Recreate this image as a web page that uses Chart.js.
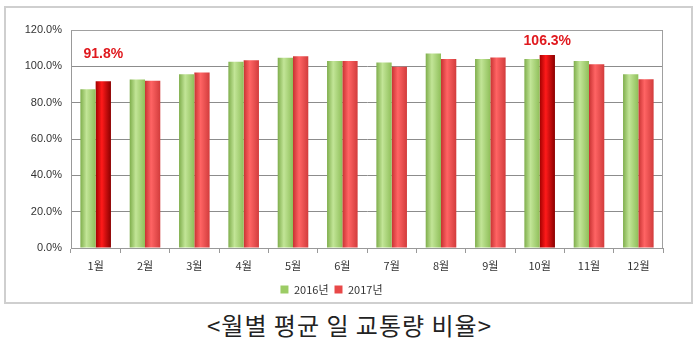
<!DOCTYPE html>
<html>
<head>
<meta charset="utf-8">
<script src="https://cdn.jsdelivr.net/npm/chart.js@4"></script>
<style>
  body { margin: 0; background: #fff; width: 699px; height: 345px; overflow: hidden; position: relative; }
  #wrap { position: absolute; left: 0; top: 0; width: 699px; height: 305px; }
  #caption {
    position: absolute; left: 0; top: 309px; width: 699px; text-align: center;
    font-family: "Noto Sans CJK KR", sans-serif; font-size: 24px; color: #222;
    line-height: 32px; letter-spacing: 1px;
  }
</style>
</head>
<body>
<div id="wrap"><canvas id="my-chart" width="699" height="305"></canvas></div>
<div id="caption">&lt;월별 평균 일 교통량 비율&gt;</div>
<script>
const months = ["1월", "2월", "3월", "4월", "5월", "6월", "7월", "8월", "9월", "10월", "11월", "12월"];
const seriesNames = ["2016년", "2017년"];
const values2016 = [87.4, 92.7, 95.7, 102.5, 104.7, 103.0, 102.1, 107.1, 104.1, 104.1, 103.0, 95.7];
const values2017 = [91.8, 92.0, 96.6, 103.4, 105.6, 102.9, 99.8, 104.1, 104.8, 106.3, 101.2, 92.9];
const highlightMonths = ["1월", "10월"];
const yTicks = [0, 20, 40, 60, 80, 100, 120];

const catPct = 0.62;
const legendColors = ["#9ccc65", "#e84848"];

// horizontal gradient across one bar, to get the cylinder look
function barGradient(ctx, stops, fallback) {
  const chart = ctx.chart;
  const x = chart.scales.x;
  if (!x || !x.width) return fallback;
  const cat = x.width / months.length;
  const w = cat * catPct / 2;
  const c = x.getPixelForValue(ctx.dataIndex);
  const x0 = ctx.datasetIndex === 0 ? c - w : c;
  const g = chart.ctx.createLinearGradient(x0, 0, x0 + w, 0);
  g.addColorStop(0, stops[0]);
  g.addColorStop(0.4, stops[1]);
  g.addColorStop(1, stops[2]);
  return g;
}

const outerBox = {
  id: "outerBox",
  beforeDraw(chart) {
    const c = chart.ctx;
    c.save();
    c.strokeStyle = "#cfcfcf";
    c.lineWidth = 2;
    c.strokeRect(5, 7, 687, 296);
    c.restore();
  },
  afterDatasetsDraw(chart) {
    const a = chart.chartArea;
    const c = chart.ctx;
    c.save();
    c.strokeStyle = "#a0a0a0";
    c.lineWidth = 1;
    c.beginPath();
    c.moveTo(a.left, a.top + 0.5);
    c.lineTo(a.right - 0.5, a.top + 0.5);
    c.lineTo(a.right - 0.5, a.bottom);
    c.stroke();
    c.restore();
  },
};

// red value labels above the highlighted 2017 bars
const valueLabels = {
  id: "valueLabels",
  afterDatasetsDraw(chart) {
    const meta = chart.getDatasetMeta(1);
    const lift = { "1월": 27, "10월": 14 };
    const c = chart.ctx;
    c.save();
    c.font = "bold 14px 'Liberation Sans', Arial, sans-serif";
    c.fillStyle = "#e0191e";
    c.textAlign = "center";
    c.textBaseline = "middle";
    months.forEach((m, i) => {
      if (!highlightMonths.includes(m)) return;
      const bar = meta.data[i];
      c.fillText(values2017[i].toFixed(1) + "%", bar.x, bar.y - lift[m]);
    });
    c.restore();
  },
};

const data = {
  labels: months,
  datasets: [
    {
      label: seriesNames[0],
      data: values2016,
      backgroundColor: (ctx) => barGradient(ctx, ["#7fae4c", "#c2e597", "#8fbf5a"], "#a9d672"),
      borderWidth: 0,
    },
    {
      label: seriesNames[1],
      data: values2017,
      backgroundColor: (ctx) => highlightMonths.includes(months[ctx.dataIndex])
        ? barGradient(ctx, ["#a30000", "#ff1a1a", "#8a0000"], "#e60000")
        : barGradient(ctx, ["#c83232", "#ff6464", "#d23c3c"], "#f04848"),
      borderWidth: 0,
    },
  ],
};

const config = {
  type: "bar",
  data: data,
  plugins: [outerBox, valueLabels],
  options: {
    responsive: false,
    animation: false,
    layout: { padding: { top: 30, right: 36, left: 0, bottom: 0 } },
    datasets: {
      bar: { categoryPercentage: catPct, barPercentage: 1 },
    },
    plugins: {
      legend: {
        position: "bottom",
        labels: {
          boxWidth: 8,
          boxHeight: 8,
          padding: 6,
          color: "#333",
          font: { size: 11, family: "'Noto Sans CJK KR', sans-serif" },
          generateLabels: (chart) => chart.data.datasets.map((ds, i) => ({
            text: ds.label,
            fillStyle: legendColors[i],
            strokeStyle: legendColors[i],
            lineWidth: 0,
            fontColor: "#333",
            datasetIndex: i,
          })),
        },
      },
      tooltip: { enabled: false },
    },
    scales: {
      x: {
        afterFit: (s) => { s.height = 30; },
        grid: {
          offset: true,
          drawOnChartArea: false,
          drawTicks: true,
          tickLength: 5,
          color: "#999",
        },
        border: { color: "#999" },
        ticks: {
          padding: 6,
          color: "#333",
          font: { size: 11, family: "'Noto Sans CJK KR', sans-serif" },
        },
      },
      y: {
        min: 0,
        max: 120,
        afterFit: (s) => { s.width = 71; },
        afterBuildTicks: (s) => { s.ticks = yTicks.map((v) => ({ value: v })); },
        grid: { color: "#8c8c8c", drawTicks: false },
        border: { color: "#999" },
        ticks: {
          padding: 9,
          color: "#333",
          font: { size: 11, family: "'Liberation Sans', Arial, sans-serif" },
          callback: (v) => v.toFixed(1) + "%",
        },
      },
    },
  },
};

const myChart = new Chart(document.getElementById("my-chart"), config);
</script>
</body>
</html>
